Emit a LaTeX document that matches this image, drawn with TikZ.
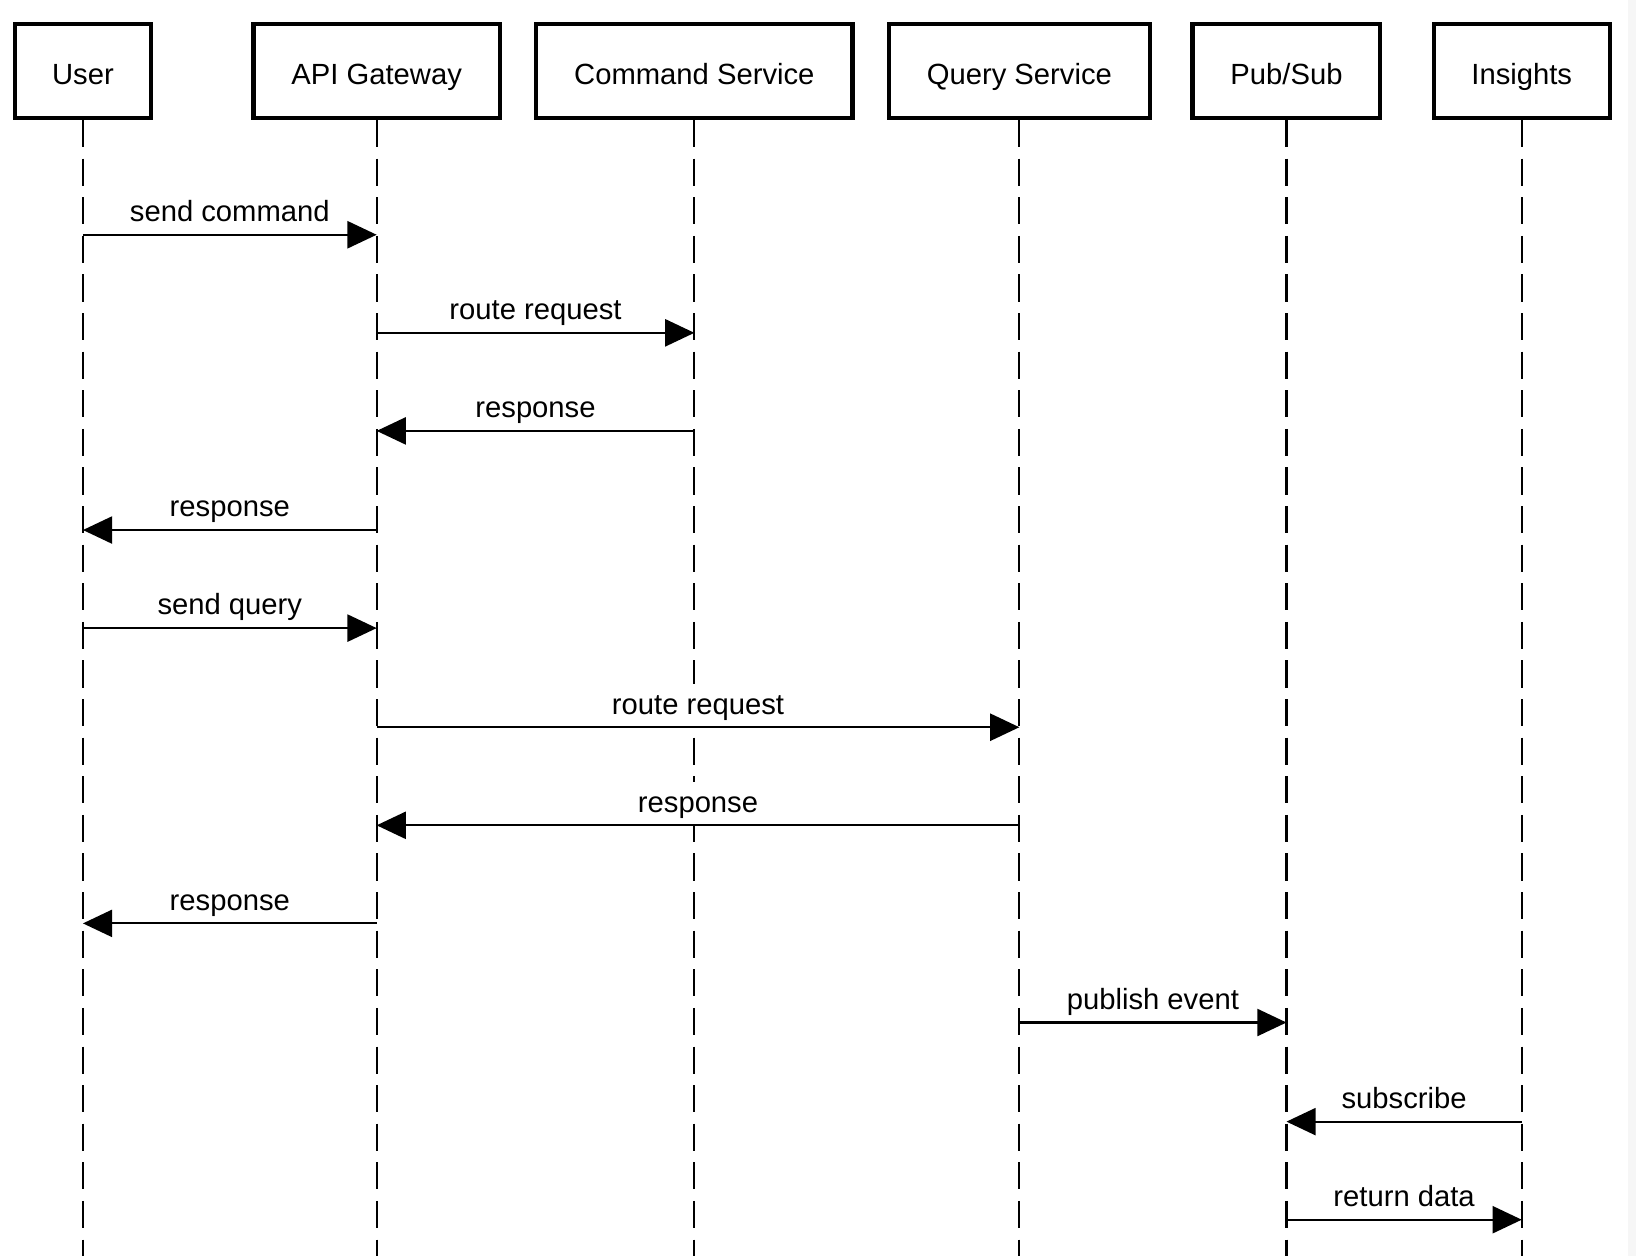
\documentclass[tikz,border=0pt]{standalone}
\usepackage{fontspec}
\setmainfont{Liberation Sans}
\usetikzlibrary{arrows.meta}

\begin{document}
\begin{tikzpicture}[x=0.5pt,y=-0.5pt,
  actor/.style={draw,line width=2pt,fill=white,minimum height=45pt,inner sep=0pt,
    text height=13pt,text depth=0pt,font=\fontsize{14}{16}\selectfont},
  lifeline/.style={line width=1pt,dash pattern=on 13pt off 5.5pt},
  msg/.style={line width=1pt,-{Triangle[length=14pt,width=13pt]}},
  lbl/.style={fill=white,anchor=south,inner sep=1.5pt,text height=13pt,
    text depth=4.3pt,font=\fontsize{14}{16}\selectfont}]

% canvas
\fill[white] (0,0) rectangle (1568,1204);
\fill[gray!7] (1560,0) rectangle (1568,1204);
\useasboundingbox (0,0) rectangle (1568,1204);

% participant heads
\node[actor,minimum width=65.5pt]  (u) at (79.5,68)  {User};
\node[actor,minimum width=118pt]   (g) at (361,68)   {API Gateway};
\node[actor,minimum width=151.5pt] (c) at (665.5,68) {Command Service};
\node[actor,minimum width=125pt]   (q) at (977,68)   {Query Service};
\node[actor,minimum width=90pt]    (p) at (1233,68)  {Pub/Sub};
\node[actor,minimum width=84.5pt]  (i) at (1458.5,68) {Insights};

% lifelines
\foreach \n in {u,g,c,q,p,i}{
  \coordinate (\n-end) at (\n.center |- 0,1204);
  \draw[lifeline] (\n.south) -- (\n-end);
}

% messages
\draw[msg] (u |- 0,225)  -- (g |- 0,225)  node[lbl,midway] {send command};
\draw[msg] (g |- 0,319)  -- (c |- 0,319)  node[lbl,midway] {route request};
\draw[msg] (c |- 0,413)  -- (g |- 0,413)  node[lbl,midway] {response};
\draw[msg] (g |- 0,508)  -- (u |- 0,508)  node[lbl,midway] {response};
\draw[msg] (u |- 0,602)  -- (g |- 0,602)  node[lbl,midway] {send query};
\draw[msg] (g |- 0,697)  -- (q |- 0,697)  node[lbl,midway] {route request};
\draw[msg] (q |- 0,791)  -- (g |- 0,791)  node[lbl,midway] {response};
\draw[msg] (g |- 0,885)  -- (u |- 0,885)  node[lbl,midway] {response};
\draw[msg] (q |- 0,980)  -- (p |- 0,980)  node[lbl,midway] {publish event};
\draw[msg] (i |- 0,1075) -- (p |- 0,1075) node[lbl,midway] {subscribe};
\draw[msg] (p |- 0,1169) -- (i |- 0,1169) node[lbl,midway] {return data};
\end{tikzpicture}
\end{document}
